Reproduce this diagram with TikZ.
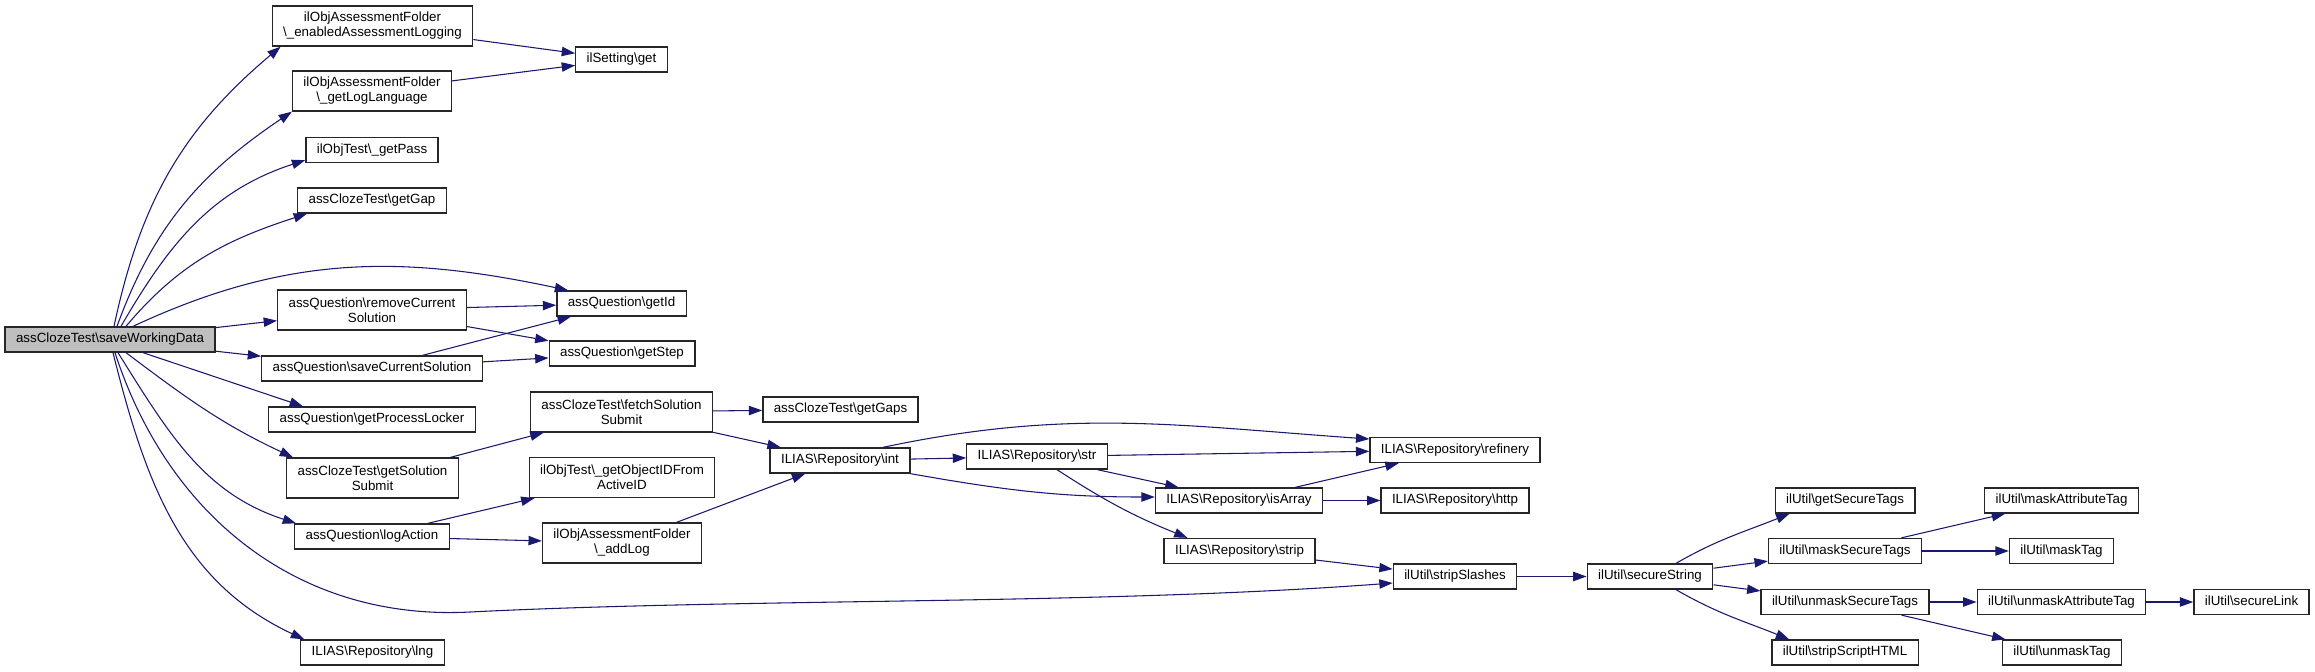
\documentclass[tikz,border=0pt]{standalone}
\usepackage{fontspec}
\setmainfont{Liberation Sans}
\usetikzlibrary{arrows.meta, positioning}
\usepackage{xcolor}
\definecolor{edgeblue}{RGB}{25,25,112}
\definecolor{rootgray}{RGB}{191,191,191}
\newcommand{\bsl}{\textbackslash}
\tikzstyle{arrow} = [
    line width=0.8pt,
    -{Triangle[length=10pt,width=7pt]},
    draw=edgeblue
]

\begin{document}
\begin{tikzpicture}[
    x=0.75pt, y=0.75pt,
    fn/.style={
        draw=black!85,
        line width=1pt,
        fill=white,
        font=\fontsize{10}{11.25}\selectfont,
        inner xsep=8.2pt,
        inner ysep=0pt,
        minimum height=18.75pt,
        text height=7.2pt,
        text depth=2.1pt
    },
    fn2/.style={
        draw=black!85,
        line width=1pt,
        fill=white,
        font=\fontsize{10}{11.25}\selectfont,
        inner xsep=8.2pt,
        inner ysep=0pt,
        minimum height=30pt,
        align=center
    },
    root/.style={fn, fill=rootgray}
]
\useasboundingbox (0,0) rectangle (2315,-671);

% Nodes
\node[root] (save) at (110,-339.5) {assClozeTest\bsl saveWorkingData};

\node[fn2] (enLog) at (372.5,-26) {ilObjAssessmentFolder\\\bsl\_enabledAssessmentLogging};
\node[fn2] (logLang) at (372,-91) {ilObjAssessmentFolder\\\bsl\_getLogLanguage};
\node[fn] (getPass) at (372,-150) {ilObjTest\bsl\_getPass};
\node[fn] (getGap) at (372,-200.5) {assClozeTest\bsl getGap};
\node[fn2] (remSol) at (372,-310) {assQuestion\bsl removeCurrent\\Solution};
\node[fn] (saveSol) at (372,-368.5) {assQuestion\bsl saveCurrentSolution};
\node[fn] (procLock) at (372,-419.5) {assQuestion\bsl getProcessLocker};
\node[fn2] (getSolSub) at (372.5,-478) {assClozeTest\bsl getSolution\\Submit};
\node[fn] (logAction) at (372,-536.5) {assQuestion\bsl logAction};
\node[fn] (lng) at (372.5,-652.5) {ILIAS\bsl Repository\bsl lng};

\node[fn] (setGet) at (621.5,-59.5) {ilSetting\bsl get};
\node[fn] (getId) at (621.5,-303.5) {assQuestion\bsl getId};
\node[fn] (getStep) at (622,-353.5) {assQuestion\bsl getStep};
\node[fn2] (fetchSub) at (621.5,-412) {assClozeTest\bsl fetchSolution\\Submit};
\node[fn2] (getObjId) at (622,-477.5) {ilObjTest\bsl\_getObjectIDFrom\\ActiveID};
\node[fn2] (addLog) at (622,-543) {ilObjAssessmentFolder\\\bsl\_addLog};

\node[fn] (getGaps) at (840.5,-409.5) {assClozeTest\bsl getGaps};
\node[fn] (repInt) at (840,-460.5) {ILIAS\bsl Repository\bsl int};
\node[fn] (repStr) at (1037,-456.5) {ILIAS\bsl Repository\bsl str};
\node[fn] (repArr) at (1239,-500.5) {ILIAS\bsl Repository\bsl isArray};
\node[fn] (repStrip) at (1239.5,-551) {ILIAS\bsl Repository\bsl strip};
\node[fn] (repRef) at (1455,-450) {ILIAS\bsl Repository\bsl refinery};
\node[fn] (repHttp) at (1455,-500.5) {ILIAS\bsl Repository\bsl http};
\node[fn] (stripSl) at (1455,-576.5) {ilUtil\bsl stripSlashes};

\node[fn] (secStr) at (1650,-576.5) {ilUtil\bsl secureString};
\node[fn] (getSecTags) at (1845,-500.5) {ilUtil\bsl getSecureTags};
\node[fn] (maskSec) at (1845,-551) {ilUtil\bsl maskSecureTags};
\node[fn] (unmaskSec) at (1845,-602) {ilUtil\bsl unmaskSecureTags};
\node[fn] (stripScr) at (1845,-652.5) {ilUtil\bsl stripScriptHTML};
\node[fn] (maskAttr) at (2061.5,-500.5) {ilUtil\bsl maskAttributeTag};
\node[fn] (maskTag) at (2061.5,-551) {ilUtil\bsl maskTag};
\node[fn] (unmaskAttr) at (2061.5,-602) {ilUtil\bsl unmaskAttributeTag};
\node[fn] (unmaskTag) at (2062,-652.5) {ilUtil\bsl unmaskTag};
\node[fn] (secLink) at (2251.5,-602) {ilUtil\bsl secureLink};

\coordinate (lowBend) at (470,-612);

% Arrows
\foreach \from/\to in {save/remSol, save/saveSol, enLog/setGet, logLang/setGet,
    remSol/getId, remSol/getStep, saveSol/getId, saveSol/getStep,
    getSolSub/fetchSub, logAction/getObjId, logAction/addLog,
    fetchSub/getGaps, fetchSub/repInt, addLog/repInt, repInt/repStr,
    repStr/repRef, repStr/repArr, repArr/repRef, repArr/repHttp,
    repStrip/stripSl, stripSl/secStr, secStr/maskSec, secStr/unmaskSec,
    maskSec/maskAttr, maskSec/maskTag, unmaskSec/unmaskAttr,
    unmaskSec/unmaskTag, unmaskAttr/secLink} {
    \draw[arrow] (\from) -- (\to);
}

\draw[arrow] ([shift={(4,0)}]save.north) to[out=78,in=220] ([shift={(9,0)}]enLog.south west);
\draw[arrow] ([shift={(7,0)}]save.north) to[out=70,in=214] (logLang.south west);
\draw[arrow] ([shift={(11,0)}]save.north) to[out=60,in=198] ([shift={(0,3)}]getPass.south west);
\draw[arrow] ([shift={(16,0)}]save.north) to[out=50,in=198] ([shift={(10,0)}]getGap.south west);
\draw[arrow] ([shift={(23,0)}]save.north) to[out=25,in=168] ([shift={(12,0)}]getId.north west);
\draw[arrow] ([shift={(33,0)}]save.south) -- ([shift={(-69,0)}]procLock.north);
\draw[arrow] ([shift={(16,0)}]save.south) to[out=-37,in=155] ([shift={(7,0)}]getSolSub.north west);
\draw[arrow] ([shift={(8,0)}]save.south) to[out=-58,in=162] ([shift={(2,0)}]logAction.north west);
\draw[arrow] ([shift={(5,0)}]save.south) to[out=-72,in=183] (lowBend)
    .. controls +(280,14) and +(-293,-22) .. ([shift={(0,-6.5)}]stripSl.west);
\draw[arrow] ([shift={(3,0)}]save.south) to[out=-76,in=155] ([shift={(4,0)}]lng.north west);

\draw[arrow] ([shift={(43,0)}]repInt.north) to[out=12,in=176] ([shift={(0,11)}]repRef.west);
\draw[arrow] (repInt.south east) to[out=-10,in=180] ([shift={(0,3.5)}]repArr.west);
\draw[arrow] ([shift={(20,0)}]repStr.south) to[out=-33,in=158] ([shift={(-52,0)}]repStrip.north);
\draw[arrow] ([shift={(26,0)}]secStr.north) to[out=30,in=202] ([shift={(15,0)}]getSecTags.south west);
\draw[arrow] ([shift={(26,0)}]secStr.south) to[out=-30,in=158] ([shift={(18,0)}]stripScr.north west);
\end{tikzpicture}
\end{document}
